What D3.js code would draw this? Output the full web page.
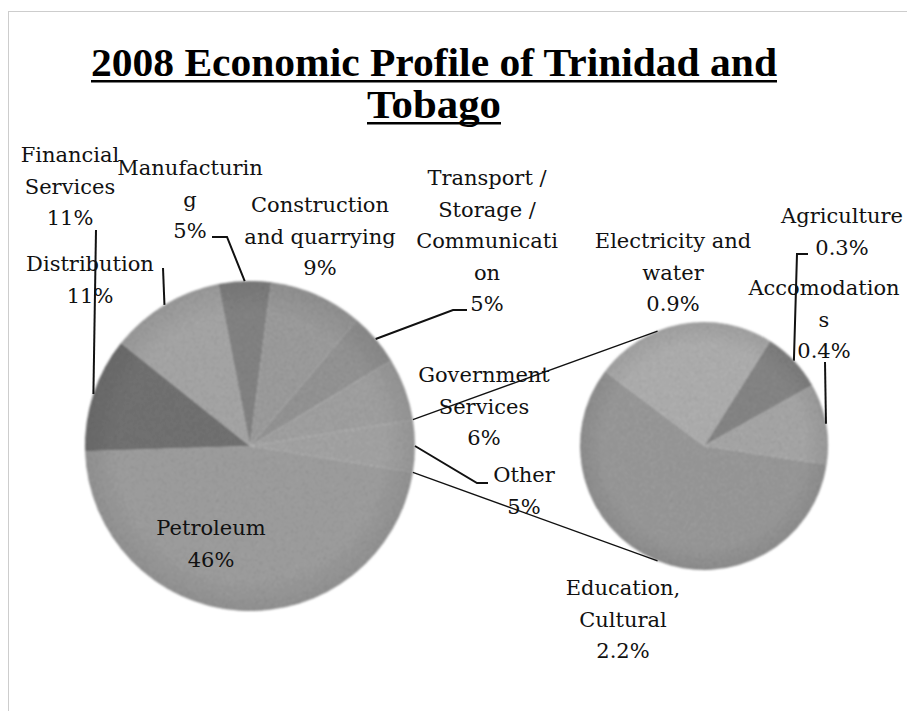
<!DOCTYPE html>
<html>
<head>
<meta charset="utf-8">
<script src="https://cdn.jsdelivr.net/npm/d3@7"></script>
<style>
  body { margin: 0; background: #fff; }
  svg { display: block; }
  .lbl { font-family: "DejaVu Serif", serif; font-size: 21px; fill: #111; }
  .ttl { font-family: "Liberation Serif", "Times New Roman", serif; font-weight: bold; font-size: 41px; fill: #000; }
</style>
</head>
<body>
<div class="main"></div>
<script>
// primary pie, clockwise starting with the "Other" slice that feeds the second pie
const mainNames = ["Other", "Petroleum", "Financial\nServices", "Distribution", "Manufacturin\ng",
                   "Construction\nand quarrying", "Transport /\nStorage /\nCommunicati\non", "Government\nServices"];
const mainValues = [5, 46, 11, 11, 5, 9, 5, 6];

// secondary pie (break-out of "Other")
const subNames = ["Electricity and\nwater", "Agriculture", "Accomodation\ns", "Education,\nCultural"];
const subValues = [0.9, 0.3, 0.4, 2.2];

const titleLines = ["2008 Economic Profile of Trinidad and", "Tobago"];

let opts = {
  width: 907,
  height: 711,
  main: { cx: 250, cy: 446, r: 165 },
  sub: { cx: 704, cy: 446, r: 124, start: -53 },
  lineH: 31.5
};

let mainShades = ["#a9a9a9", "#a3a3a3", "#767676", "#ababab", "#878787", "#a1a1a1", "#999999", "#a6a6a6"];
let subShades = ["#b4b4b4", "#8a8a8a", "#acacac", "#9e9e9e"];
let titleWidths = [686, 134];
let titleY = [76, 118];

// label anchor (centre x, first baseline) and leader line points on the label side
let mainLabelPos = [
  { x: 524, y: 482, lead: [[488, 483], [477, 483]] },
  { x: 211, y: 535 },
  { x: 70, y: 162, lead: [[96, 230]] },
  { x: 90, y: 271, lead: [[163, 268]] },
  { x: 190, y: 175, lead: [[212, 237], [227, 237]] },
  { x: 320, y: 212 },
  { x: 487, y: 185, lead: [[467, 310], [453, 310]] },
  { x: 484, y: 382 }
];
let subLabelPos = [
  { x: 673, y: 248 },
  { x: 842, y: 223, lead: [[808, 254], [797, 254]] },
  { x: 824, y: 295, lead: [[825, 362]] },
  { x: 623, y: 595 }
];

let svg = d3.select('.main').append('svg')
  .attr('width', opts.width)
  .attr('height', opts.height);

let defs = svg.append('defs');
let grain = defs.append('filter').attr('id', 'grain')
  .attr('x', '-5%').attr('y', '-5%').attr('width', '110%').attr('height', '110%');
grain.append('feTurbulence').attr('type', 'fractalNoise').attr('baseFrequency', 0.9)
  .attr('numOctaves', 2).attr('seed', 4).attr('result', 'noise');
grain.append('feColorMatrix').attr('in', 'noise').attr('type', 'matrix')
  .attr('values', '0 0 0 0 0  0 0 0 0 0  0 0 0 0 0  0 0 0 -0.9 0.55').attr('result', 'dots');
grain.append('feComposite').attr('in', 'dots').attr('in2', 'SourceAlpha').attr('operator', 'in').attr('result', 'dotsIn');
let merge = grain.append('feMerge').attr('result', 'merged');
merge.append('feMergeNode').attr('in', 'SourceGraphic');
merge.append('feMergeNode').attr('in', 'dotsIn');
grain.append('feGaussianBlur').attr('in', 'merged').attr('stdDeviation', 1.1);

let rim = defs.append('radialGradient').attr('id', 'rim');
rim.append('stop').attr('offset', '80%').attr('stop-color', '#000').attr('stop-opacity', 0);
rim.append('stop').attr('offset', '100%').attr('stop-color', '#000').attr('stop-opacity', 0.08);

// dotted frame (runs off the right and bottom edges)
svg.append('rect')
  .attr('x', 8.5).attr('y', 11.5)
  .attr('width', 1000).attr('height', 1000)
  .attr('fill', 'none')
  .attr('stroke', '#9a9a9a')
  .attr('stroke-dasharray', '1,1');

// title, squeezed like the original condensed bold serif
let title = svg.append('g');
titleLines.forEach((t, i) => {
  let w = titleWidths[i];
  title.append('text')
    .attr('class', 'ttl')
    .attr('x', 434)
    .attr('y', titleY[i])
    .attr('text-anchor', 'middle')
    .attr('textLength', w)
    .attr('lengthAdjust', 'spacingAndGlyphs')
    .text(t);
  title.append('rect')
    .attr('x', 434 - w / 2).attr('y', titleY[i] + 4)
    .attr('width', w).attr('height', 2.5)
    .attr('fill', '#000');
});

const deg = Math.PI / 180;
let mainTotal = d3.sum(mainValues);
let mainStart = Math.PI / 2 - (mainValues[0] / mainTotal) * Math.PI;

let mainArcs = d3.pie().sort(null).value(d => d)
  .startAngle(mainStart).endAngle(mainStart + 2 * Math.PI)(mainValues);
let subArcs = d3.pie().sort(null).value(d => d)
  .startAngle(opts.sub.start * deg).endAngle(opts.sub.start * deg + 2 * Math.PI)(subValues);

let edge = (c, a, r) => [c.cx + Math.sin(a) * (r || c.r), c.cy - Math.cos(a) * (r || c.r)];

function drawPie(c, arcs, shades) {
  let g = svg.append('g').attr('transform', `translate(${c.cx},${c.cy})`);
  let pg = g.append('g').attr('filter', 'url(#grain)');
  pg.selectAll('path').data(arcs).enter().append('path')
    .attr('d', d3.arc().innerRadius(0).outerRadius(c.r))
    .attr('fill', (d, i) => shades[i]);
  pg.append('circle').attr('r', c.r).attr('fill', 'url(#rim)');
}
drawPie(opts.main, mainArcs, mainShades);
drawPie(opts.sub, subArcs, subShades);

// connector lines from the "Other" slice to the second pie
let other = mainArcs[0];
let conn = svg.append('g').attr('stroke', '#111').attr('stroke-width', 1.3).attr('fill', 'none');
conn.append('line')
  .attr('x1', edge(opts.main, other.startAngle)[0]).attr('y1', edge(opts.main, other.startAngle)[1])
  .attr('x2', edge(opts.sub, -22 * deg)[0]).attr('y2', edge(opts.sub, -22 * deg)[1]);
conn.append('line')
  .attr('x1', edge(opts.main, other.endAngle)[0]).attr('y1', edge(opts.main, other.endAngle)[1])
  .attr('x2', edge(opts.sub, 202 * deg)[0]).attr('y2', edge(opts.sub, 202 * deg)[1]);

let pctMain = d => d3.format('d')(d) + '%';
let pctSub = d => d3.format('.1f')(d) + '%';

function drawLabels(c, arcs, names, pos, fmt) {
  arcs.forEach((a, i) => {
    let p = pos[i];
    let lines = names[i].split('\n').concat([fmt(a.data)]);
    let t = svg.append('text').attr('class', 'lbl').attr('text-anchor', 'middle');
    lines.forEach((ln, j) => {
      t.append('tspan').attr('x', p.x).attr('y', p.y + j * opts.lineH).text(ln);
    });
    if (p.lead) {
      let pts = p.lead.concat([edge(c, (a.startAngle + a.endAngle) / 2)]);
      svg.append('path')
        .attr('d', d3.line()(pts))
        .attr('fill', 'none')
        .attr('stroke', '#111')
        .attr('stroke-width', 2);
    }
  });
}
drawLabels(opts.main, mainArcs, mainNames, mainLabelPos, pctMain);
drawLabels(opts.sub, subArcs, subNames, subLabelPos, pctSub);
</script>
</body>
</html>
